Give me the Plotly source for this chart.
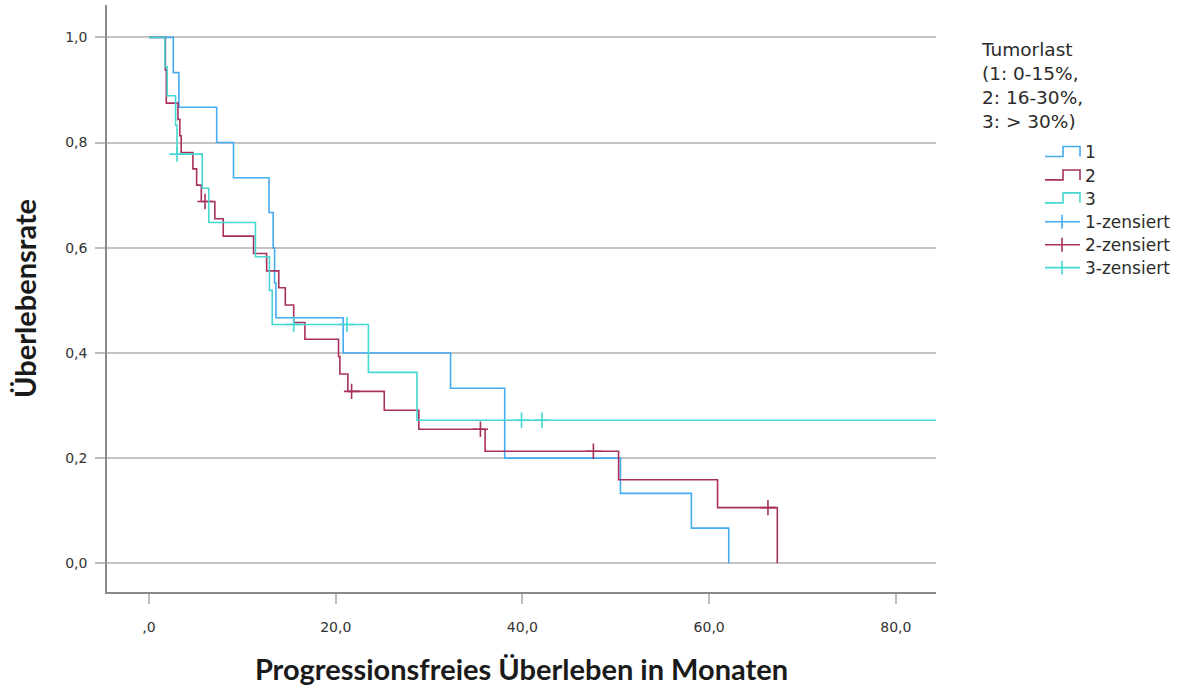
import plotly.graph_objects as go

# Kaplan-Meier step data, progression-free survival by tumour load group
group1_times = [0.0, 2.6, 3.2, 7.25, 9.05, 12.85, 13.3, 13.45, 13.6, 20.8, 32.3, 38.1, 50.5, 58.1, 62.1]
group1_surv = [1.0, 0.933, 0.867, 0.800, 0.733, 0.667, 0.600, 0.533, 0.467, 0.400, 0.333, 0.200, 0.133, 0.067, 0.0]
group1_censored = []

group2_times = [0.0, 1.75, 1.85, 3.1, 3.3, 3.45, 4.7, 5.1, 5.6, 7.05, 7.95, 11.2, 12.6, 13.9, 14.6,
                15.5, 16.7, 20.3, 20.45, 21.3, 25.2, 28.9, 36.0, 50.3, 60.9, 67.3]
group2_surv = [1.0, 0.938, 0.875, 0.844, 0.813, 0.781, 0.750, 0.719, 0.688, 0.655, 0.622, 0.589,
               0.556, 0.524, 0.491, 0.458, 0.426, 0.393, 0.360, 0.327, 0.291, 0.255, 0.213, 0.159,
               0.106, 0.0]
group2_censored = [6.0, 21.7, 35.5, 47.6, 66.3]

group3_times = [0.0, 1.7, 1.95, 2.85, 3.0, 5.7, 6.4, 11.4, 12.9, 13.2, 23.5, 28.7]
group3_surv = [1.0, 0.944, 0.889, 0.833, 0.778, 0.713, 0.648, 0.583, 0.519, 0.454, 0.363, 0.272]
group3_censored = [3.0, 15.5, 21.2, 39.9, 42.1]

group_names = ["1", "2", "3"]
group_colors = ["#45abf2", "#a8305f", "#45d8d2"]

x_ticks = [0, 20, 40, 60, 80]
x_ticktext = [",0", "20,0", "40,0", "60,0", "80,0"]
y_ticks = [0.0, 0.2, 0.4, 0.6, 0.8, 1.0]
y_ticktext = ["0,0", "0,2", "0,4", "0,6", "0,8", "1,0"]

x_range = [-4.5, 84.3]
y_range = [-0.0545, 1.0615]

legend_title = "Tumorlast<br>(1: 0-15%,<br>2: 16-30%,<br>3: > 30%)"

groups = [
    (group1_times, group1_surv, group1_censored),
    (group2_times, group2_surv, group2_censored),
    (group3_times, group3_surv, group3_censored),
]


def surv_at(times, surv, t):
    """Value of the step function at time t."""
    value = surv[0]
    for ti, si in zip(times, surv):
        if ti <= t:
            value = si
    return value


fig = go.Figure()

for (times, surv, cens), name, color in zip(groups, group_names, group_colors):
    xs = list(times)
    ys = list(surv)
    if ys[-1] > 0:
        # still-at-risk curves run on to the right edge of the axis
        xs.append(x_range[1] + 1)
        ys.append(ys[-1])
    fig.add_trace(go.Scatter(
        x=xs, y=ys, mode="lines", line=dict(color=color, width=1.6, shape="hv"),
        name=name, showlegend=False, hoverinfo="skip",
    ))
    if cens:
        fig.add_trace(go.Scatter(
            x=cens, y=[surv_at(times, surv, c) for c in cens], mode="markers",
            marker=dict(symbol="cross-thin", size=11, line=dict(color=color, width=1.6)),
            name=name + "-zensiert", showlegend=False, hoverinfo="skip",
        ))

# plot area in pixels
L, R, T, B = 107, 936, 5, 594


def px(xp):
    return (xp - L) / (R - L)


def py(yp):
    return (B - yp) / (B - T)


shapes = []
annotations = []
font_fam = "DejaVu Sans, sans-serif"
title_fam = "Lato, sans-serif"

annotations.append(dict(
    x=px(979), y=py(37), xref="paper", yref="paper", xanchor="left", yanchor="top",
    text=legend_title, showarrow=False, align="left",
    font=dict(family=font_fam, size=18.5, color="#2b2b2b"),
))

row_y = [153, 176.5, 199.5, 222.5, 245.5, 268.5]
labels = group_names + [n + "-zensiert" for n in group_names]
for i, (ry, lab) in enumerate(zip(row_y, labels)):
    color = group_colors[i % 3]
    if i < 3:
        # step icon
        path = (f"M {px(1045)} {py(ry + 4)} L {px(1063)} {py(ry + 4)} L {px(1063)} {py(ry - 6)} "
                f"L {px(1080)} {py(ry - 6)} L {px(1080)} {py(ry + 4)}")
        shapes.append(dict(type="path", xref="paper", yref="paper", path=path,
                           line=dict(color=color, width=1.6)))
    else:
        shapes.append(dict(type="line", xref="paper", yref="paper",
                           x0=px(1045), x1=px(1080), y0=py(ry), y1=py(ry),
                           line=dict(color=color, width=1.6)))
        shapes.append(dict(type="line", xref="paper", yref="paper",
                           x0=px(1062), x1=px(1062), y0=py(ry - 7), y1=py(ry + 7),
                           line=dict(color=color, width=1.6)))
    annotations.append(dict(
        x=px(1083), y=py(ry), xref="paper", yref="paper", xanchor="left", yanchor="middle",
        text=lab, showarrow=False, font=dict(family=font_fam, size=17, color="#2b2b2b"),
    ))

fig.update_layout(
    width=1182, height=686,
    margin=dict(l=L, r=1182 - R, t=T, b=686 - B),
    paper_bgcolor="white", plot_bgcolor="white",
    shapes=shapes, annotations=annotations,
    showlegend=False,
    xaxis=dict(
        range=x_range, tickvals=x_ticks, ticktext=x_ticktext,
        showgrid=False, zeroline=False,
        showline=True, linecolor="#8a8a8a", linewidth=1.5,
        ticks="outside", ticklen=10, tickcolor="#bdbdbd", tickwidth=1.5,
        ticklabelstandoff=11,
        tickfont=dict(family=font_fam, size=14, color="#333333"),
        title=dict(text="<b>Progressionsfreies Überleben in Monaten</b>", standoff=26,
                   font=dict(family=title_fam, size=29, color="#1a1a1a")),
    ),
    yaxis=dict(
        range=y_range, tickvals=y_ticks, ticktext=y_ticktext,
        showgrid=True, gridcolor="#c4c4c4", gridwidth=1.5, zeroline=False,
        showline=True, linecolor="#8a8a8a", linewidth=1.5,
        ticks="outside", ticklen=10, tickcolor="#bdbdbd", tickwidth=1.5,
        ticklabelstandoff=5,
        tickfont=dict(family=font_fam, size=14, color="#333333"),
        title=dict(text="<b>Überlebensrate</b>", standoff=20,
                   font=dict(family=title_fam, size=29, color="#1a1a1a")),
    ),
)

fig.write_html("out.html")
